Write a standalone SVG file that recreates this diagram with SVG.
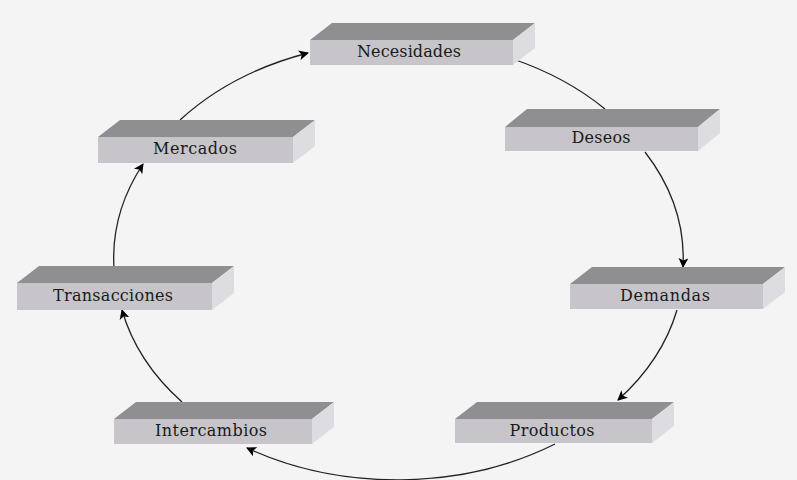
<svg xmlns="http://www.w3.org/2000/svg" width="797" height="480" viewBox="0 0 797 480">
<style>
.front{fill:#c7c5c9}
.top{fill:#8f8f92}
.side{fill:#dddce0}
.lbl{font-family:"DejaVu Serif","Liberation Serif",serif;font-size:16px;fill:#1a1a1a;text-anchor:middle}
.conn{fill:none;stroke:#222;stroke-width:1.3}
</style>
<defs>
<marker id="ah" viewBox="0 0 10 10" refX="9" refY="5" markerWidth="10" markerHeight="10" markerUnits="userSpaceOnUse" orient="auto">
<path d="M0,0 L10,5 L0,10 L2.5,5 z" fill="#000"/>
</marker>
</defs>
<rect x="0" y="0" width="797" height="480" fill="#f4f4f4"/>
<g id="connectors">
<path class="conn" d="M180,120 A285,213 0 0 1 308,53" marker-end="url(#ah)"/>
<path class="conn" d="M513,59 A285,213 0 0 1 605,109"/>
<path class="conn" d="M645,152 A285,213 0 0 1 683,267" marker-end="url(#ah)"/>
<path class="conn" d="M677,310 A285,213 0 0 1 618,400" marker-end="url(#ah)"/>
<path class="conn" d="M555,444 A285,213 0 0 1 247,448" marker-end="url(#ah)"/>
<path class="conn" d="M182,402 A285,213 0 0 1 122,310" marker-end="url(#ah)"/>
<path class="conn" d="M114,268 A285,213 0 0 1 143,164" marker-end="url(#ah)"/>
</g>
<g id="necesidades">
<polygon class="top" points="310,40 332,23 535,23 513,40"/>
<polygon class="side" points="513,40 535,23 535,48 513,65"/>
<rect class="front" x="310" y="40" width="203" height="25"/>
<text class="lbl" x="409" y="57" textLength="104" lengthAdjust="spacing">Necesidades</text>
</g>
<g id="deseos">
<polygon class="top" points="505,127 527,109 720,109 698,127"/>
<polygon class="side" points="698,127 720,109 720,133 698,151"/>
<rect class="front" x="505" y="127" width="193" height="24"/>
<text class="lbl" x="601" y="143" textLength="59" lengthAdjust="spacing">Deseos</text>
</g>
<g id="demandas">
<polygon class="top" points="570,284 592,267 785,267 763,284"/>
<polygon class="side" points="763,284 785,267 785,292 763,309"/>
<rect class="front" x="570" y="284" width="193" height="25"/>
<text class="lbl" x="665" y="301" textLength="90" lengthAdjust="spacing">Demandas</text>
</g>
<g id="productos">
<polygon class="top" points="455,419 477,402 674,402 652,419"/>
<polygon class="side" points="652,419 674,402 674,426 652,443"/>
<rect class="front" x="455" y="419" width="197" height="24"/>
<text class="lbl" x="552" y="436" textLength="85" lengthAdjust="spacing">Productos</text>
</g>
<g id="intercambios">
<polygon class="top" points="114,419 136,402 334,402 312,419"/>
<polygon class="side" points="312,419 334,402 334,427 312,444"/>
<rect class="front" x="114" y="419" width="198" height="25"/>
<text class="lbl" x="211" y="436" textLength="112" lengthAdjust="spacing">Intercambios</text>
</g>
<g id="transacciones">
<polygon class="top" points="17,283 39,266 234,266 212,283"/>
<polygon class="side" points="212,283 234,266 234,293 212,310"/>
<rect class="front" x="17" y="283" width="195" height="27"/>
<text class="lbl" x="113" y="301" textLength="120" lengthAdjust="spacing">Transacciones</text>
</g>
<g id="mercados">
<polygon class="top" points="98,137 120,120 315,120 293,137"/>
<polygon class="side" points="293,137 315,120 315,146 293,163"/>
<rect class="front" x="98" y="137" width="195" height="26"/>
<text class="lbl" x="195" y="154" textLength="84" lengthAdjust="spacing">Mercados</text>
</g>
</svg>
